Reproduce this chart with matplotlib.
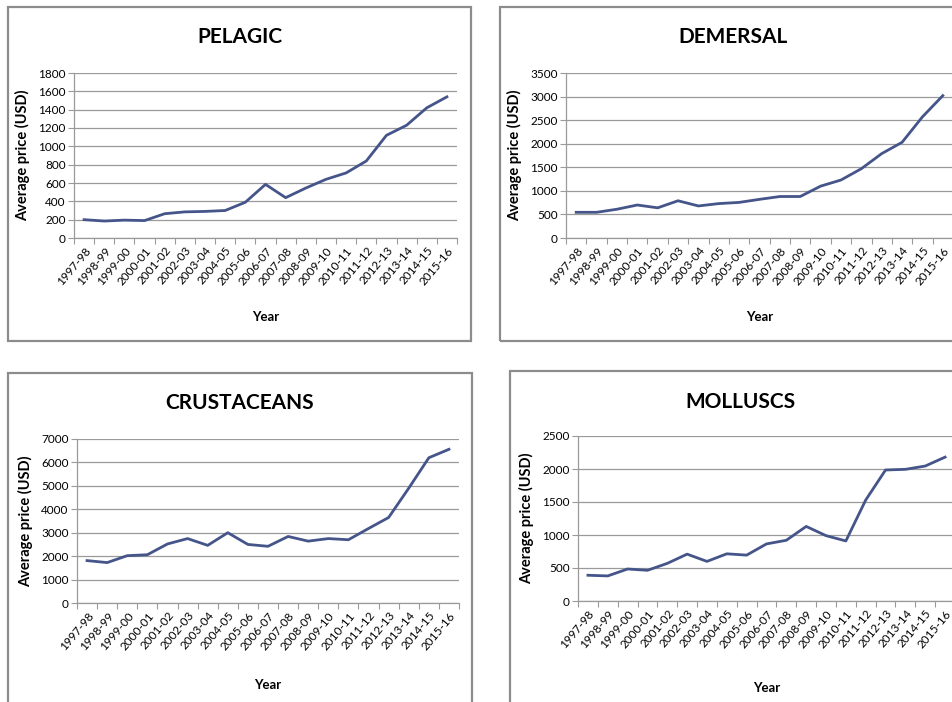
import matplotlib.pyplot as plt
from matplotlib.patches import Rectangle

plt.rcParams['font.family'] = ['Lato', 'DejaVu Sans']

years = ['1997-98', '1998-99', '1999-00', '2000-01', '2001-02', '2002-03',
         '2003-04', '2004-05', '2005-06', '2006-07', '2007-08', '2008-09',
         '2009-10', '2010-11', '2011-12', '2012-13', '2013-14', '2014-15',
         '2015-16']

pelagic = [200, 185, 195, 190, 265, 285, 290, 300, 390, 585,
           440, 545, 640, 710, 840, 1120, 1230, 1420, 1540]
demersal = [545, 545, 610, 700, 640, 790, 680, 730, 755, 820,
            880, 880, 1100, 1230, 1470, 1790, 2030, 2570, 3020]
crustaceans = [1810, 1725, 2020, 2060, 2520, 2750, 2460, 3000, 2500, 2420,
               2840, 2640, 2750, 2700, 3180, 3650, 4900, 6200, 6560]
molluscs = [390, 380, 485, 465, 570, 710, 600, 715, 695, 865,
            920, 1130, 990, 910, 1530, 1985, 1995, 2045, 2180]

panels = [
    # title, data, y max, y step, plot area (px), border box (px), title y, 'Year' y
    ('PELAGIC', pelagic, 1800, 200, (74, 73, 457, 238), (8, 7, 471, 341), 37, 317),
    ('DEMERSAL', demersal, 3500, 500, (566, 73, 953, 238), (500, 7, 966, 341), 37, 317),
    ('CRUSTACEANS', crustaceans, 7000, 1000, (77, 439, 459, 603), (8, 373, 472, 710), 403, 685),
    ('MOLLUSCS', molluscs, 2500, 500, (578, 436, 955, 601), (510, 371, 970, 710), 402, 688),
]

W, H = 953, 702
fig = plt.figure(figsize=(W / 100, H / 100), dpi=100)

line_color = '#45558a'
grid_color = '#9a9a9a'

for title, data, ymax, ystep, (l, t, r, b), (bl, bt, br, bb), ty, yy in panels:
    # outer chart border
    fig.patches.append(Rectangle((bl / W, 1 - bb / H), (br - bl) / W, (bb - bt) / H,
                                 transform=fig.transFigure, fill=False,
                                 edgecolor='#8c8c8c', linewidth=1.6))
    ax = fig.add_axes([l / W, 1 - b / H, (r - l) / W, (b - t) / H])
    x = list(range(len(years)))
    ax.plot(x, data, color=line_color, linewidth=2.0)
    ax.set_xlim(-0.5, len(years) - 0.5)
    ax.set_ylim(0, ymax)
    ax.set_yticks(range(0, ymax + 1, ystep))

    # tick marks between categories, labels at category centres
    ax.set_xticks([i - 0.5 for i in range(len(years) + 1)])
    ax.set_xticklabels([])
    ax.set_xticks(x, minor=True)
    ax.set_xticklabels(years, minor=True, rotation=50, ha='right',
                       rotation_mode='anchor', fontsize=8.5)
    ax.tick_params(axis='x', which='minor', length=0, pad=5)
    ax.tick_params(axis='x', which='major', length=4, color=grid_color)
    ax.tick_params(axis='y', length=4, color=grid_color, labelsize=8.5, pad=2)

    ax.yaxis.grid(True, color=grid_color, linewidth=0.9)
    ax.set_axisbelow(True)
    for s in ['top', 'right']:
        ax.spines[s].set_visible(False)
    for s in ['left', 'bottom']:
        ax.spines[s].set_color(grid_color)
        ax.spines[s].set_linewidth(0.9)
    ax.set_ylabel('Average price (USD)', fontsize=10.5, fontweight='bold', labelpad=6)

    fig.text((bl + br) / 2 / W, 1 - ty / H, title, ha='center', va='center',
             fontsize=15, fontweight='bold')
    fig.text((l + r) / 2 / W, 1 - yy / H, 'Year', ha='center', va='center',
             fontsize=9.5, fontweight='bold')

fig.savefig('out.png', dpi=100)
